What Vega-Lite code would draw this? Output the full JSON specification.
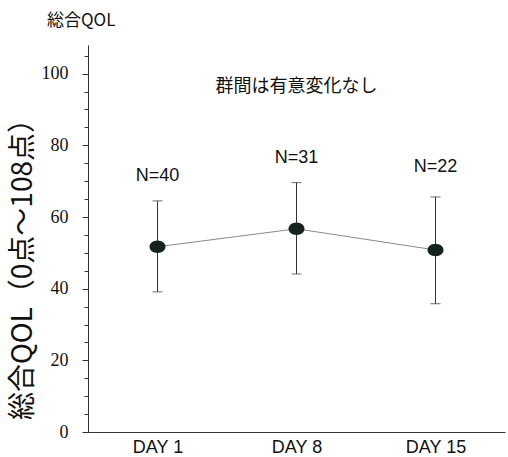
{
  "$schema": "https://vega.github.io/schema/vega-lite/v6.json",
  "width": 417,
  "height": 387,
  "autosize": {"type": "none"},
  "padding": {"left": 88, "top": 45, "right": 3, "bottom": 25},
  "background": "white",
  "title": {
    "text": "総合QOL",
    "anchor": "start",
    "frame": "group",
    "dx": -41,
    "offset": 15,
    "font": "Noto Sans CJK JP",
    "fontSize": 17,
    "fontWeight": "normal",
    "color": "#111"
  },
  "config": {"view": {"stroke": null}},
  "datasets": {
    "pts": [
      {"day": "DAY 1", "mean": 51.7, "lo": 39.1, "hi": 64.5, "label": "N=40", "ly": 71.5},
      {"day": "DAY 8", "mean": 56.7, "lo": 44.1, "hi": 69.6, "label": "N=31", "ly": 76.5},
      {"day": "DAY 15", "mean": 50.8, "lo": 35.8, "hi": 65.6, "label": "N=22", "ly": 74}
    ],
    "note": [{"day": "DAY 8", "y": 96.3, "text": "群間は有意変化なし"}]
  },
  "resolve": {"axis": {"y": "independent"}},
  "layer": [
    {
      "data": {"name": "pts"},
      "mark": {"type": "line", "color": "#8a8a8a", "strokeWidth": 1},
      "encoding": {
        "x": {
          "field": "day", "type": "nominal", "sort": ["DAY 1", "DAY 8", "DAY 15"],
          "scale": {"type": "point", "padding": 0.5},
          "axis": {
            "title": null, "labelAngle": 0, "ticks": false, "labelPadding": 6,
            "labelFont": "Liberation Sans", "labelFontSize": 18, "labelColor": "#111",
            "domainColor": "#333", "domainWidth": 1, "grid": false
          }
        },
        "y": {
          "field": "mean", "type": "quantitative",
          "scale": {"domain": [0, 108], "nice": false, "zero": true},
          "axis": {
            "orient": "left",
            "values": [0, 20, 40, 60, 80, 100],
            "title": "総合QOL（0点～108点）",
            "titleFont": "Noto Sans CJK JP", "titleFontSize": 28, "titleFontWeight": "normal",
            "titleColor": "#111", "titleX": -51, "titleY": 217, "titleAlign": "center",
            "labelFont": "Liberation Sans Narrow", "labelFontSize": 18, "labelColor": "#111",
            "labelPadding": 14, "tickSize": 6, "tickColor": "#333",
            "domainColor": "#333", "domainWidth": 1, "grid": false
          }
        }
      }
    },
    {
      "data": {"name": "pts"},
      "mark": {"type": "rule", "color": "#333", "strokeWidth": 1},
      "encoding": {
        "x": {"field": "day", "type": "nominal", "sort": ["DAY 1", "DAY 8", "DAY 15"]},
        "y": {
          "field": "lo", "type": "quantitative",
          "axis": {
            "orient": "left",
            "values": [5, 10, 15, 25, 30, 35, 45, 50, 55, 65, 70, 75, 85, 90, 95, 105],
            "labels": false, "title": null, "domain": false, "grid": false,
            "tickSize": 4, "tickColor": "#333"
          }
        },
        "y2": {"field": "hi"}
      }
    },
    {
      "data": {"name": "pts"},
      "mark": {"type": "tick", "color": "#333", "size": 10, "thickness": 1},
      "encoding": {
        "x": {"field": "day", "type": "nominal", "sort": ["DAY 1", "DAY 8", "DAY 15"]},
        "y": {"field": "hi", "type": "quantitative", "axis": null}
      }
    },
    {
      "data": {"name": "pts"},
      "mark": {"type": "tick", "color": "#333", "size": 10, "thickness": 1},
      "encoding": {
        "x": {"field": "day", "type": "nominal", "sort": ["DAY 1", "DAY 8", "DAY 15"]},
        "y": {"field": "lo", "type": "quantitative", "axis": null}
      }
    },
    {
      "data": {"name": "pts"},
      "mark": {
        "type": "point", "filled": true, "color": "#15231c", "opacity": 1,
        "shape": "M-1,0A1,0.78,0,1,0,1,0A1,0.78,0,1,0,-1,0Z", "size": 256
      },
      "encoding": {
        "x": {"field": "day", "type": "nominal", "sort": ["DAY 1", "DAY 8", "DAY 15"]},
        "y": {"field": "mean", "type": "quantitative", "axis": null}
      }
    },
    {
      "data": {"name": "pts"},
      "mark": {"type": "text", "font": "Liberation Sans", "fontSize": 18, "color": "#111"},
      "encoding": {
        "x": {"field": "day", "type": "nominal", "sort": ["DAY 1", "DAY 8", "DAY 15"]},
        "y": {"field": "ly", "type": "quantitative", "axis": null},
        "text": {"field": "label"}
      }
    },
    {
      "data": {"name": "note"},
      "mark": {"type": "text", "font": "Noto Sans CJK JP", "fontSize": 18, "color": "#111"},
      "encoding": {
        "x": {"field": "day", "type": "nominal", "sort": ["DAY 1", "DAY 8", "DAY 15"]},
        "y": {"field": "y", "type": "quantitative", "axis": null},
        "text": {"field": "text"}
      }
    }
  ]
}
